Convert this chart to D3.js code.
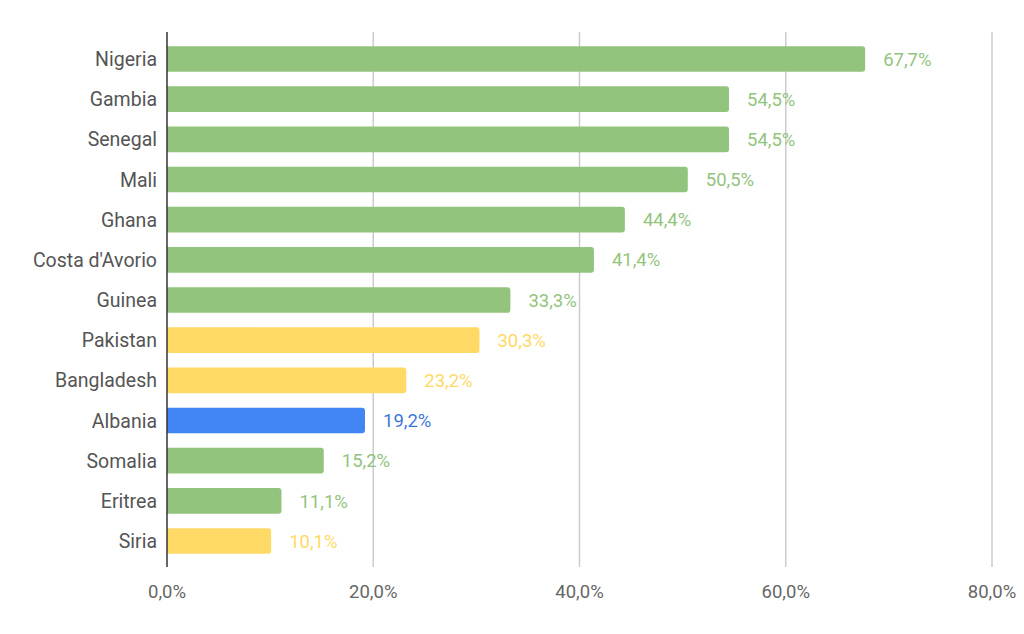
<!DOCTYPE html>
<html><head><meta charset="utf-8">
<script src="https://cdn.jsdelivr.net/npm/d3@7"></script>
<style>body{margin:0;background:#fff;}svg{display:block;font-family:Roboto,"Noto Sans",sans-serif;}</style>
</head><body>
<svg id="c" width="1024" height="634"></svg>
<script>
const categories = ["Nigeria","Gambia","Senegal","Mali","Ghana","Costa d'Avorio","Guinea","Pakistan","Bangladesh","Albania","Somalia","Eritrea","Siria"];
const values = [67.7,54.5,54.5,50.5,44.4,41.4,33.3,30.3,23.2,19.2,15.2,11.1,10.1];
const groups = ["g","g","g","g","g","g","g","y","y","b","g","g","y"];
const tickValues = [0,20,40,60,80];

const barColor = {g:"#93c47d", y:"#ffd966", b:"#4285f4"};
const labelColor = {g:"#93c47d", y:"#ffd966", b:"#3c78d8"};

const svg = d3.select("#c");
const x = d3.scaleLinear().domain([0,80]).range([167,992]);
const y = d3.scaleBand().domain(categories).range([38.9,561.1]).paddingInner(0.36).paddingOuter(0.18);

// gridlines
svg.append("g").selectAll("line").data(tickValues.filter(d=>d>0)).join("line")
  .attr("x1",d=>x(d)).attr("x2",d=>x(d)).attr("y1",32).attr("y2",567)
  .attr("stroke","#cccccc").attr("stroke-width",1.5);

// tick labels
svg.append("g").selectAll("text").data(tickValues).join("text")
  .attr("x",d=>x(d)).attr("y",598).attr("text-anchor","middle")
  .attr("font-size",18.5).attr("fill","#666666")
  .text(d=>d.toFixed(1).replace(".",",")+"%");

// bars
const data = categories.map((c,i)=>({c,v:values[i],g:groups[i]}));
svg.append("g").selectAll("path").data(data).join("path")
  .attr("d",d=>{
    const x0=x(0), x1=x(d.v), y0=y(d.c), h=y.bandwidth(), r=3;
    return `M${x0},${y0}H${x1-r}Q${x1},${y0} ${x1},${y0+r}V${y0+h-r}Q${x1},${y0+h} ${x1-r},${y0+h}H${x0}Z`;
  })
  .attr("fill",d=>barColor[d.g]);

// zero line
svg.append("line").attr("x1",x(0)).attr("x2",x(0)).attr("y1",32).attr("y2",567)
  .attr("stroke","#333333").attr("stroke-width",1.5);

// category labels
svg.append("g").selectAll("text").data(categories).join("text")
  .attr("x",157).attr("y",d=>y(d)+y.bandwidth()/2).attr("dy","0.36em")
  .attr("text-anchor","end").attr("font-size",19.5).attr("fill","#555555")
  .text(d=>d);

// value labels
svg.append("g").selectAll("text").data(data).join("text")
  .attr("x",d=>x(d.v)+18).attr("y",d=>y(d.c)+y.bandwidth()/2).attr("dy","0.36em")
  .attr("font-size",18.5).attr("fill",d=>labelColor[d.g])
  .text(d=>d.v.toFixed(1).replace(".",",")+"%");
</script>
</body></html>
